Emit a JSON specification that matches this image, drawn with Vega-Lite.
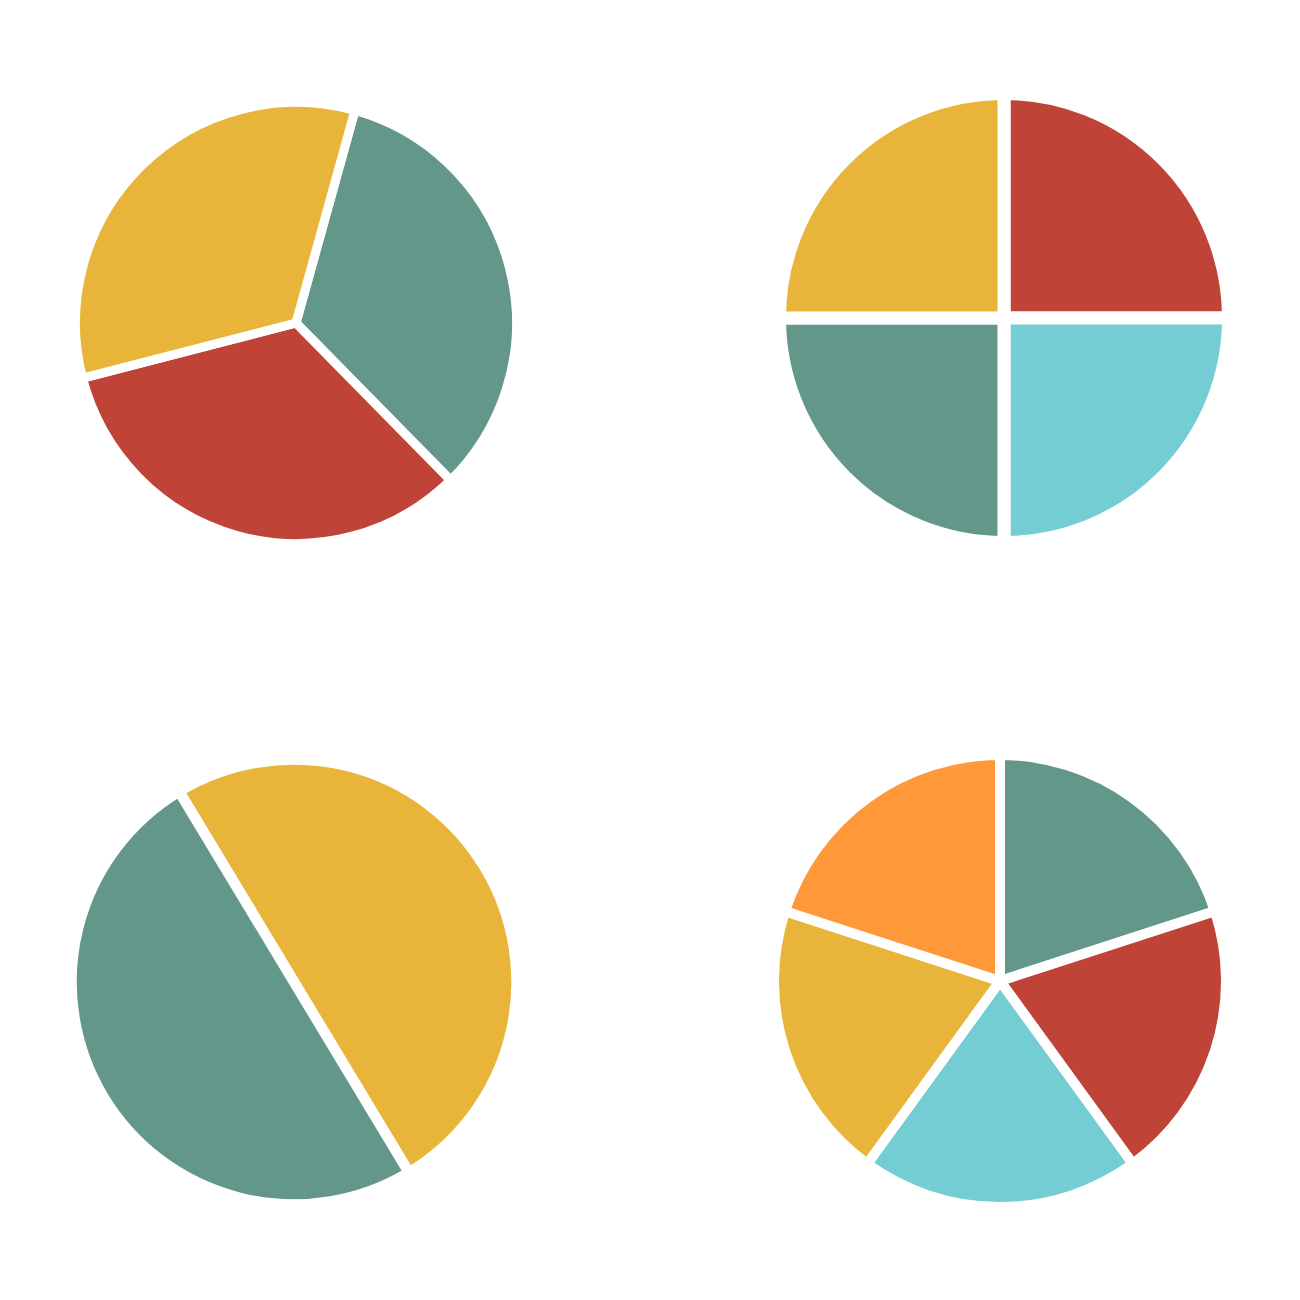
{
  "$schema": "https://vega.github.io/schema/vega-lite/v6.json",
  "background": "white",
  "padding": {"left": 45, "top": 67, "right": 0, "bottom": 0},
  "config": {"view": {"stroke": null}},
  "vconcat": [
    {
      "hconcat": [
        {
          "width": 502,
          "height": 510,
          "data": {"values": [
            {"slice": "S2", "value": 1, "order": 1},
            {"slice": "S3", "value": 1, "order": 2},
            {"slice": "S1", "value": 1, "order": 3}
          ]},
          "mark": {"type": "arc", "outerRadius": 220.5, "stroke": "white", "strokeWidth": 9},
          "encoding": {
            "theta": {"field": "value", "type": "quantitative", "stack": true, "scale": {"range": [0.2705, 6.5537]}},
            "order": {"field": "order", "type": "quantitative"},
            "color": {"field": "slice", "type": "nominal", "legend": null,
              "scale": {"domain": ["S1", "S2", "S3", "S4", "S5"], "range": ["#E8B53A", "#62978A", "#BF4437", "#74CDD2", "#FE9838"]}}
          }
        },
        {
          "width": 500,
          "height": 500,
          "data": {"values": [
            {"slice": "S3", "value": 1, "order": 1},
            {"slice": "S4", "value": 1, "order": 2},
            {"slice": "S2", "value": 1, "order": 3},
            {"slice": "S1", "value": 1, "order": 4}
          ]},
          "mark": {"type": "arc", "outerRadius": 224.5, "stroke": "white", "strokeWidth": 13},
          "encoding": {
            "theta": {"field": "value", "type": "quantitative", "stack": true},
            "order": {"field": "order", "type": "quantitative"},
            "color": {"field": "slice", "type": "nominal", "legend": null}
          }
        }
      ],
      "spacing": 206
    },
    {
      "hconcat": [
        {
          "width": 498,
          "height": 500,
          "data": {"values": [
            {"slice": "S1", "value": 1, "order": 1},
            {"slice": "S2", "value": 1, "order": 2}
          ]},
          "mark": {"type": "arc", "outerRadius": 222.5, "stroke": "white", "strokeWidth": 10.5},
          "encoding": {
            "theta": {"field": "value", "type": "quantitative", "stack": true, "scale": {"range": [-0.5428, 5.7404]}},
            "order": {"field": "order", "type": "quantitative"},
            "color": {"field": "slice", "type": "nominal", "legend": null}
          }
        },
        {
          "width": 500,
          "height": 498,
          "data": {"values": [
            {"slice": "S2", "value": 1, "order": 1},
            {"slice": "S3", "value": 1, "order": 2},
            {"slice": "S4", "value": 1, "order": 3},
            {"slice": "S1", "value": 1, "order": 4},
            {"slice": "S5", "value": 1, "order": 5}
          ]},
          "mark": {"type": "arc", "outerRadius": 226, "stroke": "white", "strokeWidth": 10},
          "encoding": {
            "theta": {"field": "value", "type": "quantitative", "stack": true},
            "order": {"field": "order", "type": "quantitative"},
            "color": {"field": "slice", "type": "nominal", "legend": null}
          }
        }
      ],
      "spacing": 207
    }
  ],
  "spacing": 154
}
